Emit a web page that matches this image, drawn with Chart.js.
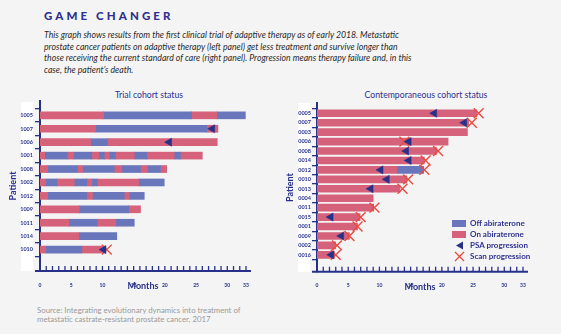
<!DOCTYPE html>
<html>
<head>
<meta charset="utf-8">
<script src="https://cdn.jsdelivr.net/npm/chart.js@4.4.1/dist/chart.umd.min.js"></script>
<style>
  html,body{margin:0;padding:0;background:#f4f4f4;}
  body{width:561px;height:334px;position:relative;overflow:hidden;font-family:Lato,"Open Sans",sans-serif;}
  .abs{position:absolute;white-space:nowrap;}
  #head{left:44px;top:9px;font-size:11.5px;font-weight:900;letter-spacing:3.1px;color:#2e3190;}
  #intro{left:44px;top:29px;font-size:8.7px;line-height:11.7px;font-style:italic;color:#2b2b2b;}
  #source{left:37px;top:306px;font-size:7.8px;line-height:9.3px;color:#9a9a9a;}
  .ctitle{top:89px;font-size:8.7px;color:#2e3190;transform:translateX(-50%);}
  .strip{background:#fff;}
  canvas{position:absolute;}
  #legend{left:452px;top:218px;font-size:8px;font-weight:700;color:#2e3190;}
  #legend div{height:11px;line-height:11px;position:relative;padding-left:18px;}
  #legend .sw{position:absolute;left:0;top:2px;width:14px;height:7px;}
  #legend svg{position:absolute;left:1px;top:0;}
</style>
</head>
<body>
<div class="abs" id="head">GAME CHANGER</div>
<div class="abs" id="intro">This graph shows results from the first clinical trial of adaptive therapy as of early 2018. Metastatic<br>prostate cancer patients on adaptive therapy (left panel) get less treatment and survive longer than<br>those receiving the current standard of care (right panel). Progression means therapy failure and, in this<br>case, the patient’s death.</div>
<div class="abs ctitle" style="left:149px">Trial cohort status</div>
<div class="abs ctitle" style="left:426px">Contemporaneous cohort status</div>
<div class="abs strip" style="left:21px;top:102px;width:12px;height:169px"></div>
<div class="abs strip" style="left:298px;top:103px;width:12px;height:169px"></div>
<canvas id="trial" width="280" height="215" style="left:0;top:85px"></canvas>
<canvas id="cont" width="281" height="215" style="left:280px;top:85px"></canvas>
<div class="abs" id="legend">
  <div><span class="sw" style="background:#6a76bb"></span>Off abiraterone</div>
  <div><span class="sw" style="background:#d5627a"></span>On abiraterone</div>
  <div><svg width="12" height="11"><polygon points="3,5.5 10,1.5 10,9.5" fill="#27318a"/></svg>PSA progression</div>
  <div><svg width="12" height="11"><path d="M2,1 L11,10 M11,1 L2,10" stroke="#ea4a3f" stroke-width="1.3"/></svg>Scan progression</div>
</div>
<div class="abs" id="source">Source: Integrating evolutionary dynamics into treatment of<br>metastatic castrate-resistant prostate cancer, 2017</div>

<script>
// Months at which each patient switches on/off abiraterone (starts on), last value = end of follow-up
const trialPatients = ['1005','1007','1006','1001','1008','1002','1012','1009','1011','1014','1010'];
const trialSwitches = [
  [10.2, 24.3, 28.3, 32.9],
  [8.9, 26.7, 28.5],
  [8.1, 10.8, 28.4],
  [0.75, 4.4, 5.4, 8.3, 9.4, 10.3, 11.1, 12.1, 15.1, 17.1, 21.5, 22.5, 26.0],
  [1.2, 6.0, 6.8, 11.9, 13.1, 16.1, 17.2, 19.3, 20.3],
  [0.9, 2.7, 5.5, 7.5, 8.3, 9.2, 15.8, 19.9],
  [1.2, 7.5, 8.4, 13.5, 14.3, 16.7],
  [6.3, 14.2, 16.1],
  [4.6, 9.2, 12.1, 15.1],
  [6.2, 12.3],
  [0.9, 6.7, 10.3]
];
const trialPSA  = [null, 27.6, 20.7, null, null, null, null, null, null, null, 10.2];
const trialScan = [null, null, null, null, null, null, null, null, null, null, 10.7];

const contPatients = ['0005','0007','0003','0006','0008','0014','0012','0010','0013','0004','0011','0015','0001','0009','0002','0016'];
const contSwitches = [
  [25.6],[24.3],[24.1],[21.0],[19.2],[17.2],[12.8, 17.1],[14.4],
  [13.3],[9.0],[9.1],[6.9],[6.5],[5.2],[3.0],[2.8]
];
const contPSA  = [18.8, 23.6, null, 14.7, 14.3, 14.7, 10.2, 11.2, 8.6, null, null, 2.2, null, 3.9, null, 2.3];
const contScan = [25.9, 24.8, null, 14.0, 19.4, 17.4, 17.2, 14.6, 13.7, null, 9.2, 7.0, 6.5, 5.2, 3.2, 3.0];

const monthTicks = [0, 5, 10, 15, 20, 25, 30, 33];

const NAVY = '#27318a', ON = '#d5627a', OFF = '#6a76bb', SCAN = '#ea4a3f';
Chart.defaults.font.family = 'Lato, "Open Sans", sans-serif';
Chart.defaults.color = NAVY;

// x axis drawn with inward tick marks
const upTicks = {
  id:'upTicks',
  afterDraw(chart){
    const xs = chart.scales.x, y = chart.chartArea.bottom, ctx = chart.ctx;
    ctx.save();
    ctx.strokeStyle = NAVY;
    ctx.lineWidth = 2;
    ctx.beginPath(); ctx.moveTo(xs.left-5, y); ctx.lineTo(xs.right+5, y); ctx.stroke();
    ctx.lineWidth = 1.3;
    xs.ticks.forEach(t=>{
      const px = xs.getPixelForValue(t.value);
      ctx.beginPath(); ctx.moveTo(px, y); ctx.lineTo(px, y-5); ctx.stroke();
    });
    ctx.restore();
  }
};

function segments(switches){
  const n = Math.max(...switches.map(s=>s.length));
  const sets = [];
  for(let k=0;k<n;k++){
    const data = [];
    switches.forEach((s,i)=>{
      if(s[k]!=null) data.push({x:[k ? s[k-1] : 0, s[k]], y:i});
    });
    sets.push({type:'bar', data, backgroundColor: k%2 ? OFF : ON, barThickness:7, grouped:false, order:2});
  }
  return sets;
}

function markers(vals, style){
  const data = [];
  vals.forEach((v,i)=>{ if(v!=null) data.push({x:v, y:i}); });
  return style==='psa'
    ? {type:'line', data, showLine:false, pointStyle:'triangle', rotation:-90, pointRadius:4.7,
       pointBackgroundColor:NAVY, pointBorderColor:NAVY, pointBorderWidth:0.5, order:0, clip:false}
    : {type:'line', data, showLine:false, pointStyle:'crossRot', pointRadius:7,
       pointBorderColor:SCAN, pointBorderWidth:1.4, order:1, clip:false};
}

function makeChart(id, patients, switches, psa, scan, opt){
  return new Chart(document.getElementById(id), {
    data:{datasets:[...segments(switches), markers(psa,'psa'), markers(scan,'scan')]},
    plugins:[upTicks],
    options:{
      indexAxis:'y',
      responsive:false,
      animation:false,
      devicePixelRatio:1,
      layout:{padding:opt.padding},
      plugins:{legend:{display:false}, tooltip:{enabled:false}},
      scales:{
        x:{
          type:'linear', min:0, max:33,
          grid:{display:false}, border:{display:false},
          afterBuildTicks:s=>{ s.ticks = Array.from({length:34},(_,i)=>({value:i})); },
          afterFit:s=>{ s.height = 21; },
          ticks:{autoSkip:false, maxRotation:0, padding:3, font:{size:5, weight:'bold'},
            callback:v=>monthTicks.includes(v) ? String(v) : ''},
          title:{display:true, text:'Months', font:{size:9, weight:'bold'}, padding:{top:0, bottom:0.6}}
        },
        y:{
          type:'linear', reverse:true, min:-0.5, max:opt.yMax,
          afterBuildTicks:s=>{ s.ticks = patients.map((_,i)=>({value:i})); },
          afterFit:s=>{ s.width = opt.yWidth; },
          grid:{drawOnChartArea:false, tickLength:5, color:NAVY, lineWidth:1.3},
          border:{color:NAVY, width:2},
          ticks:{padding:opt.tickPad, font:{size:5.5, weight:'bold'}, callback:v=>patients[v]},
          title:{display:true, text:'Patient', font:{size:9, weight:'bold'}, padding:{top:opt.titlePad, bottom:0}}
        }
      }
    }
  });
}

makeChart('trial', trialPatients, trialSwitches, trialPSA, trialScan,
  {padding:{left:0, right:34, top:15.9, bottom:8}, yMax:11.02, yWidth:40, tickPad:2, titlePad:7.5});
makeChart('cont', contPatients, contSwitches, contPSA, contScan,
  {padding:{left:0, right:38, top:18.3, bottom:7.3}, yMax:16.23, yWidth:37, tickPad:1, titlePad:4.6});
</script>
</body>
</html>
